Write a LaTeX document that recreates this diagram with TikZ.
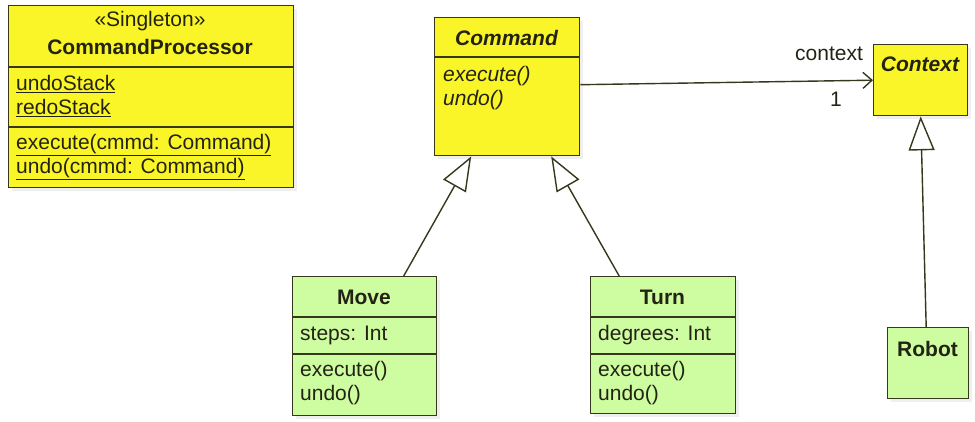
\documentclass[tikz,border=0pt]{standalone}
\usepackage{fontspec}
\setmainfont{Liberation Sans}
\usetikzlibrary{arrows.meta,shadows}
\definecolor{yel}{RGB}{250,245,40}
\definecolor{grn}{RGB}{206,252,160}
\definecolor{bord}{RGB}{55,55,30}
\definecolor{txt}{RGB}{35,35,20}
\tikzset{
  cls/.style={draw=bord, line width=1.4pt, rectangle, inner sep=0pt, anchor=north west,
    drop shadow={opacity=0.12, shadow xshift=3pt, shadow yshift=-3pt}},
  sep/.style={draw=bord, line width=1.4pt},
  lbl/.style={inner sep=0pt, text=txt, font=\fontsize{21}{24}\selectfont},
  lft/.style={lbl, anchor=west},
  bfl/.style={lbl, font=\fontsize{21}{24}\selectfont\bfseries},
  bil/.style={lbl, font=\fontsize{21}{24}\selectfont\bfseries\itshape},
  itl/.style={lft, font=\fontsize{21}{24}\selectfont\itshape},
  gen/.style={draw=bord, line width=1.4pt, -{Triangle[open, length=34pt, width=26pt, fill=white]}},
  assoc/.style={draw=bord, line width=1.4pt, -{Straight Barb[length=9pt, width=16pt]}}
}
\begin{document}
\begin{tikzpicture}[x=1pt,y=-1pt]
\useasboundingbox[fill=white] (0,0) rectangle (975,422);

% CommandProcessor
\node[cls, fill=yel, minimum width=285pt, minimum height=182pt] (cp) at (8,5) {};
\draw[sep] (8,67) -- (293,67);
\draw[sep] (8,127) -- (293,127);
\node[lbl] (cpst) at (150,21) {«Singleton»};
\node[bfl] (cpname) at (150,47) {CommandProcessor};
\node[lft] (cpa1) at (16,84) {\underline{undoStack}};
\node[lft] (cpa2) at (16,108) {\underline{redoStack}};
\node[lft] (cpm1) at (16,145) {\underline{execute(cmmd: Command)}};
\node[lft] (cpm2) at (16,169) {\underline{undo(cmmd: Command)}};

% Command
\node[cls, fill=yel, minimum width=145pt, minimum height=138pt] (command) at (434,17) {};
\draw[sep] (434,57) -- (579,57);
\node[bil] (cmdname) at (506.5,38) {Command};
\node[itl] (cmdm1) at (443,76) {execute()};
\node[itl] (cmdm2) at (443,100) {undo()};

% Context
\node[cls, fill=yel, minimum width=94pt, minimum height=71pt] (context) at (873,44) {};
\node[bil] (ctxname) at (920,64) {Context};

% Move
\node[cls, fill=grn, minimum width=144pt, minimum height=139pt] (move) at (292,276) {};
\draw[sep] (292,317) -- (436,317);
\draw[sep] (292,354) -- (436,354);
\node[bfl] (movename) at (364,297) {Move};
\node[lft] (movea) at (300,335) {steps: Int};
\node[lft] (movem1) at (300,371) {execute()};
\node[lft] (movem2) at (300,395) {undo()};

% Turn
\node[cls, fill=grn, minimum width=145pt, minimum height=137pt] (turn) at (590,276) {};
\draw[sep] (590,317) -- (735,317);
\draw[sep] (590,354) -- (735,354);
\node[bfl] (turnname) at (662.5,297) {Turn};
\node[lft] (turna) at (598,335) {degrees: Int};
\node[lft] (turnm1) at (598,371) {execute()};
\node[lft] (turnm2) at (598,395) {undo()};

% Robot
\node[cls, fill=grn, minimum width=81pt, minimum height=71pt] (robot) at (887,327) {};
\node[bfl] (robotname) at (927.5,349) {Robot};

% connectors
\draw[gen] ([xshift=39pt]move.north) -- ([xshift=-36pt]command.south);
\draw[gen] ([xshift=-44pt]turn.north) -- ([xshift=44pt]command.south);
\draw[gen] ([xshift=-2pt]robot.north) -- (context.south);
\draw[assoc] ([yshift=2pt]command.east) -- (context.west);
\node[lbl] (ctxrole) at (829,54) {context};
\node[lbl] (ctxmult) at (836,99) {1};
\end{tikzpicture}
\end{document}
